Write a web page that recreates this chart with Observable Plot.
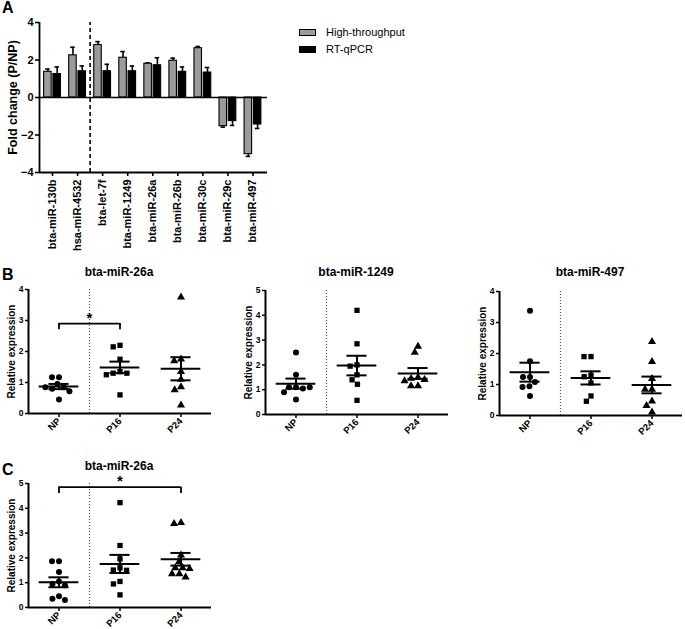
<!DOCTYPE html>
<html><head><meta charset="utf-8">
<script src="https://cdn.jsdelivr.net/npm/d3@7"></script>
<script src="https://cdn.jsdelivr.net/npm/@observablehq/plot@0.6"></script>
<style>
body{margin:0;background:#fff;}
#fig{position:relative;width:685px;height:629px;overflow:hidden;font-family:"Liberation Sans",Arial,Helvetica,sans-serif;color:#000;background:#fff;}
#fig svg{position:absolute;overflow:visible;}
.t{position:absolute;font-weight:bold;line-height:1;white-space:nowrap;}
.ctr{transform:translateX(-50%);}
.leg{position:absolute;left:299px;font-size:11px;line-height:1;}
.leg .row{display:flex;align-items:center;height:12px;margin-bottom:5px;}
.leg .sw{width:17px;height:7px;box-sizing:border-box;border:1px solid #000;margin-right:10px;}
</style></head><body><div id="fig"></div>
<script>
// ---------- Panel A data ----------
const miRNAs = ["bta-miR-130b","hsa-miR-4532","bta-let-7f","bta-miR-1249","bta-miR-26a","bta-miR-26b","bta-miR-30c","bta-miR-29c","bta-miR-497"];
const seriesNames = ["High-throughput","RT-qPCR"];
const highThroughput    = [1.37, 2.25, 2.80, 2.12, 1.80, 1.96, 2.63, -1.53, -3.02];
const highThroughputErr = [0.15, 0.43, 0.18, 0.33, 0.05, 0.14, 0.09, 0.05, 0.12];
const rtQpcr            = [1.25, 1.40, 1.40, 1.40, 1.72, 1.37, 1.33, -1.26, -1.44];
const rtQpcrErr         = [0.38, 0.28, 0.37, 0.28, 0.40, 0.26, 0.27, 0.23, 0.21];
const dividerAfter = "hsa-miR-4532";
const foldTicks = [-4, -2, 0, 2, 4];

// ---------- Panels B / C data ----------
const groups = ["NP", "P16", "P24"];
const b26aNP  = [1.17, 1.17, 0.95, 0.85, 0.80, 0.72, 0.85, 0.45];
const b26aP16 = [2.20, 2.15, 1.75, 1.35, 1.30, 1.30, 1.25, 0.60];
const b26aP24 = [3.75, 1.75, 1.70, 1.35, 1.10, 0.86, 0.76, 0.27];
const b1249NP  = [2.50, 1.60, 1.10, 1.10, 1.05, 1.10, 0.90, 0.60];
const b1249P16 = [4.20, 2.85, 2.00, 1.95, 1.60, 1.40, 1.22, 0.57];
const b1249P24 = [2.75, 2.50, 1.50, 1.45, 1.40, 1.35, 1.15, 1.15];
const b497NP  = [3.38, 1.75, 1.24, 1.24, 1.08, 0.94, 0.92, 0.63];
const b497P16 = [1.90, 1.90, 1.30, 1.25, 1.05, 0.63, 0.46];
const b497P24 = [2.38, 1.74, 1.19, 0.84, 0.84, 0.46, 0.32, 0.11];
const c26aNP  = [1.86, 1.86, 1.43, 1.05, 0.95, 0.90, 0.45, 0.35, 0.30];
const c26aP16 = [4.23, 2.50, 1.96, 1.60, 1.51, 1.50, 1.05, 0.95, 0.51];
const c26aP24 = [3.42, 3.38, 2.11, 1.84, 1.60, 1.60, 1.57, 1.35, 1.35, 1.22];
const b26aSig = {from: "NP", to: "P16", y: 2.9, drop: 0.2, label: "*"};
const c26aSig = {from: "NP", to: "P24", y: 4.85, drop: 0.25, label: "*"};
const yLabelB = "Relative expression";
const yLabelA = "Fold change (P/NP)";

const fig = document.getElementById("fig");
const FONT = "'Liberation Sans', Arial, Helvetica, sans-serif";

function place(el, left, top) {
  el.style.left = left + "px";
  el.style.top = top + "px";
  fig.appendChild(el);
}
function addText(txt, left, top, size, center) {
  const d = document.createElement("div");
  d.className = "t" + (center ? " ctr" : "");
  d.style.fontSize = size + "px";
  d.textContent = txt;
  place(d, left, top);
}

// ---------- Panel A ----------
{
  const rows = [];
  miRNAs.forEach((m, i) => {
    rows.push({i, series: seriesNames[0], value: highThroughput[i], err: highThroughputErr[i]});
    rows.push({i, series: seriesNames[1], value: rtQpcr[i], err: rtQpcrErr[i]});
  });
  const barW = 0.3, gap = 0.035, cap = 0.09;
  const lo = (d) => d.series === seriesNames[0] ? d.i - gap - barW : d.i + gap;
  const ctr = (d) => lo(d) + barW / 2;
  const tip = (d) => d.value + Math.sign(d.value) * d.err;
  const xDom = [-0.52, miRNAs.length - 0.42];
  const divX = miRNAs.indexOf(dividerAfter) + 0.5;
  const svg = Plot.plot({
    width: 275, height: 260,
    marginLeft: 39, marginRight: 8, marginTop: 22, marginBottom: 88,
    style: {fontFamily: FONT, background: "transparent", overflow: "visible"},
    x: {domain: xDom, axis: null},
    y: {domain: [-4, 4], axis: null},
    color: {domain: seriesNames, range: ["#9b9b9b", "#000000"]},
    marks: [
      Plot.ruleX(rows, {x: ctr, y1: "value", y2: tip, strokeWidth: 1.6}),
      Plot.ruleY(rows, {y: tip, x1: (d) => ctr(d) - cap, x2: (d) => ctr(d) + cap, strokeWidth: 1.6}),
      Plot.rectY(rows, {x1: lo, x2: (d) => lo(d) + barW, y1: 0, y2: "value", fill: "series", stroke: "black", strokeWidth: 1.1}),
      Plot.ruleY([0], {strokeWidth: 1.6}),
      Plot.ruleX([divX], {y1: -4, y2: 4, strokeWidth: 1.6, strokeDasharray: "4,3"}),
      Plot.ruleX([xDom[0]], {y1: -4, y2: 4, strokeWidth: 1.8}),
      Plot.ruleY([-4], {strokeWidth: 1.8}),
      Plot.axisY({ticks: foldTicks, tickSize: 4, tickPadding: 2, fontSize: 11, fontWeight: "bold", label: null, strokeWidth: 1.6}),
      Plot.axisX({ticks: d3.range(miRNAs.length), tickFormat: (i) => miRNAs[i], tickRotate: -90, tickSize: 4, tickPadding: 3, fontSize: 11, fontWeight: "bold", label: null, strokeWidth: 1.6}),
      Plot.text([yLabelA], {frameAnchor: "left", textAnchor: "middle", rotate: -90, dx: -27, fontSize: 12.5, fontWeight: "bold"})
    ]
  });
  place(svg, 0, 0);
}

// legend A
{
  const leg = document.createElement("div");
  leg.className = "leg";
  const fills = ["#9b9b9b", "#000000"];
  seriesNames.forEach((s, k) => {
    const r = document.createElement("div");
    r.className = "row";
    const sw = document.createElement("span");
    sw.className = "sw";
    sw.style.background = fills[k];
    const tx = document.createElement("span");
    tx.textContent = s;
    r.appendChild(sw); r.appendChild(tx);
    leg.appendChild(r);
  });
  place(leg, 299, 26);
}

// ---------- Scatter panels ----------
function scatterPanel(values, yMax, sig, x0, yTop) {
  const rows = groups.flatMap((g, i) => values[i].map((v) => ({group: g, value: v})));
  const stats = groups.map((g, i) => {
    const v = values[i];
    const m = d3.mean(v);
    const s = d3.deviation(v) / Math.sqrt(v.length);
    return {group: g, mean: m, lo: m - s, hi: m + s};
  });
  const first = [{group: groups[0]}];
  const mL = 27, mR = 3, mT = 16, mB = 30, inner = 184, plotH = 124;
  const xEnd = 2 * groups.length - 1;
  const marks = [
    Plot.ruleX(first, {fx: "group", x: () => 1, y1: 0, y2: yMax, stroke: "#555", strokeDasharray: "1,2", strokeWidth: 1.2}),
    Plot.ruleX(first, {fx: "group", x: () => -1, y1: 0, y2: yMax, strokeWidth: 2}),
    Plot.ruleY(first, {fx: "group", y: () => 0, x1: () => -1, x2: () => xEnd, strokeWidth: 2}),
    Plot.axisY({ticks: d3.range(0, yMax + 1), tickFormat: d3.format("d"), tickSize: 3, tickPadding: 2, fontSize: 8.5, fontWeight: "bold", label: null, strokeWidth: 1.5}),
    Plot.axisFx({anchor: "bottom", tickRotate: -45, tickSize: 4, tickPadding: 2, fontSize: 9.5, fontWeight: "bold", label: null, strokeWidth: 1.5}),
    Plot.text(first, {fx: "group", text: () => yLabelB, frameAnchor: "left", textAnchor: "middle", rotate: -90, dx: -17, fontSize: 10, fontWeight: "bold"}),
    Plot.dot(rows, Plot.dodgeX("middle", {fx: "group", y: "value", r: 3, padding: 0.8, symbol: "group", fill: "black", stroke: "none"})),
    Plot.ruleY(stats, {fx: "group", y: "mean", x1: () => -0.65, x2: () => 0.65, strokeWidth: 2}),
    Plot.ruleY(stats, {fx: "group", y: "hi", x1: () => -0.33, x2: () => 0.33, strokeWidth: 2}),
    Plot.ruleY(stats, {fx: "group", y: "lo", x1: () => -0.33, x2: () => 0.33, strokeWidth: 2}),
    Plot.ruleX(stats, {fx: "group", x: () => 0, y1: "lo", y2: "hi", strokeWidth: 2})
  ];
  if (sig) {
    const k = 2 * (groups.indexOf(sig.to) - groups.indexOf(sig.from));
    const s = [{group: sig.from, y: sig.y, y0: sig.y - sig.drop, label: sig.label}];
    marks.push(
      Plot.ruleY(s, {fx: "group", y: "y", x1: () => 0, x2: () => k, strokeWidth: 1.8}),
      Plot.ruleX(s, {fx: "group", x: () => 0, y1: "y0", y2: "y", strokeWidth: 1.8}),
      Plot.ruleX(s, {fx: "group", x: () => k, y1: "y0", y2: "y", strokeWidth: 1.8}),
      Plot.text(s, {fx: "group", x: () => k / 2, y: "y", text: "label", lineAnchor: "bottom", dy: -1, fontSize: 15, fontWeight: "bold"})
    );
  }
  const svg = Plot.plot({
    width: mL + inner + mR, height: mT + plotH + mB,
    marginLeft: mL, marginRight: mR, marginTop: mT, marginBottom: mB,
    style: {fontFamily: FONT, background: "transparent", overflow: "visible"},
    fx: {domain: groups, paddingInner: 0, paddingOuter: 0, axis: null, label: null},
    x: {domain: [-1, 1], axis: null},
    y: {domain: [0, yMax], axis: null},
    symbol: {domain: groups, range: ["circle", "square", "triangle"]},
    marks
  });
  place(svg, x0 - mL, yTop - mT);
}

scatterPanel([b26aNP, b26aP16, b26aP24], 4, b26aSig, 27, 289);
scatterPanel([b1249NP, b1249P16, b1249P24], 5, null, 264, 290);
scatterPanel([b497NP, b497P16, b497P24], 4, null, 498, 291);
scatterPanel([c26aNP, c26aP16, c26aP24], 5, c26aSig, 27, 483);

// titles and panel letters
addText("A", 2, 0, 16, false);
addText("B", 2, 267, 16, false);
addText("C", 2, 462, 16, false);
addText("bta-miR-26a", 119, 266, 12, true);
addText("bta-miR-1249", 356, 266, 12, true);
addText("bta-miR-497", 590, 266, 12, true);
addText("bta-miR-26a", 119, 460, 12, true);
</script></body></html>
